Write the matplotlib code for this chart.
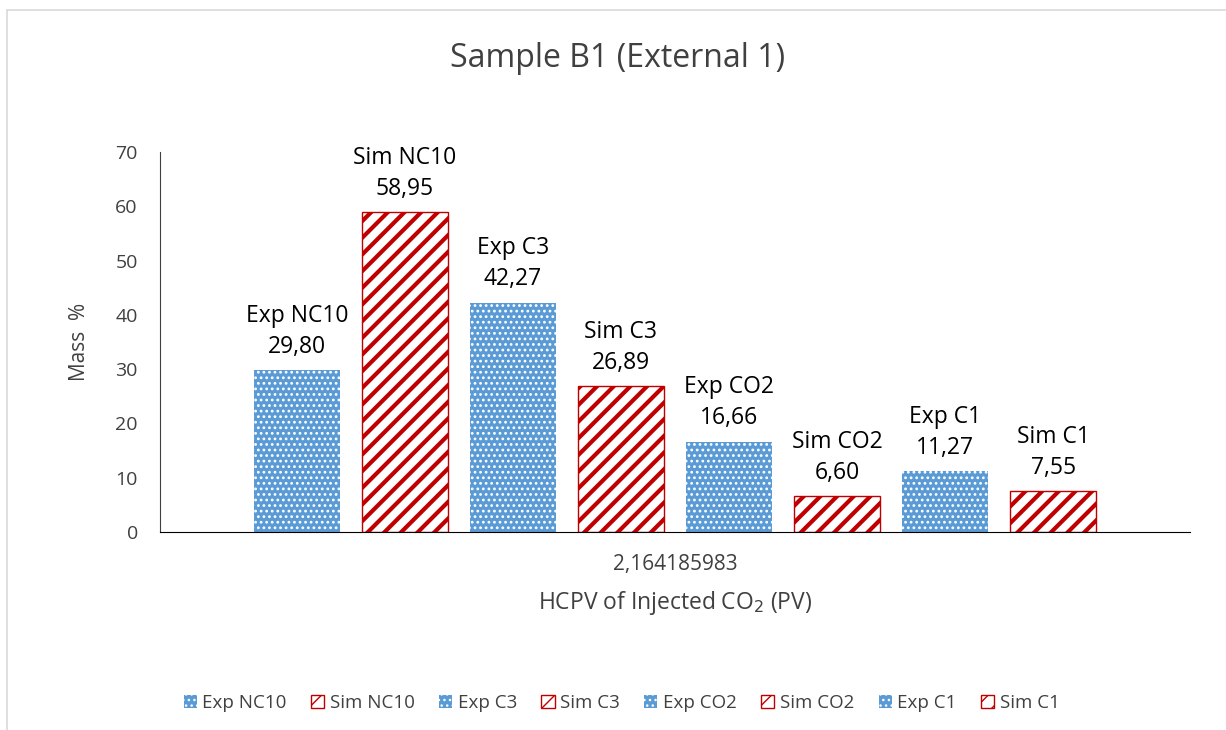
import matplotlib
matplotlib.use("Agg")
import matplotlib.pyplot as plt

# données
series = ["Exp NC10", "Sim NC10", "Exp C3", "Sim C3", "Exp CO2", "Sim CO2", "Exp C1", "Sim C1"]
valeurs = [29.80, 58.95, 42.27, 26.89, 16.66, 6.60, 11.27, 7.55]
categorie = "2,164185983"

bleu = "#5B9BD5"
rouge = "#C00000"

plt.rcParams["font.family"] = ["Open Sans", "DejaVu Sans"]

fig = plt.figure(figsize=(12.26, 7.30), dpi=100)
ax = fig.add_axes([0.1305, 0.2712, 0.8401, 0.5206])

slot = 0.1049
largeur = 0.0835
barres = []
for i, (nom, v) in enumerate(zip(series, valeurs)):
    x = (i - 3.5) * slot
    if nom.startswith("Exp"):
        with plt.rc_context({"hatch.linewidth": 1.2}):
            b = ax.bar(x, v, largeur, facecolor=bleu, edgecolor="white",
                       hatch="...", linewidth=0.0, label=nom)
    else:
        with plt.rc_context({"hatch.linewidth": 3.0}):
            b = ax.bar(x, v, largeur, facecolor="white", edgecolor=rouge,
                       hatch="//", linewidth=1.0, label=nom)
    barres.append(b)
    etiquette = nom + "\n" + f"{v:.2f}".replace(".", ",")
    ax.annotate(etiquette, (x, v), xytext=(0, 8), textcoords="offset points",
                ha="center", va="bottom", fontsize=16.5, color="#000000",
                linespacing=1.4)

ax.set_xlim(-0.5, 0.5)
ax.set_ylim(0, 70)
ax.set_yticks(range(0, 71, 10))
ax.set_xticks([0])
ax.set_xticklabels([categorie])
ax.tick_params(axis="y", length=0, labelsize=14, colors="#404040", pad=16)
ax.tick_params(axis="x", length=0, labelsize=15, colors="#404040", pad=16)
for s in ["top", "right"]:
    ax.spines[s].set_visible(False)
ax.spines["left"].set_color("#404040")
ax.spines["bottom"].set_color("#000000")

ax.set_ylabel("Mass  %", fontsize=15, color="#404040", labelpad=18)
ax.set_xlabel("HCPV of Injected CO$_2$ (PV)", fontsize=16.5, color="#404040", labelpad=10)
fig.text(0.504, 0.92, "Sample B1 (External 1)", ha="center", va="center",
         fontsize=23, color="#404040")

fig.legend(handles=barres, labels=series, loc="center", bbox_to_anchor=(0.507, 0.037),
           ncol=8, frameon=False, fontsize=13.5, handlelength=0.7, handleheight=0.7,
           handletextpad=0.3, columnspacing=1.3, labelcolor="#404040")

# cadre du graphique
cadre = plt.Rectangle((0.006, -0.05), 1.2, 1.036, transform=fig.transFigure,
                      fill=False, edgecolor="#D9D9D9", linewidth=1.2)
fig.add_artist(cadre)

fig.savefig("out.png", dpi=100)
